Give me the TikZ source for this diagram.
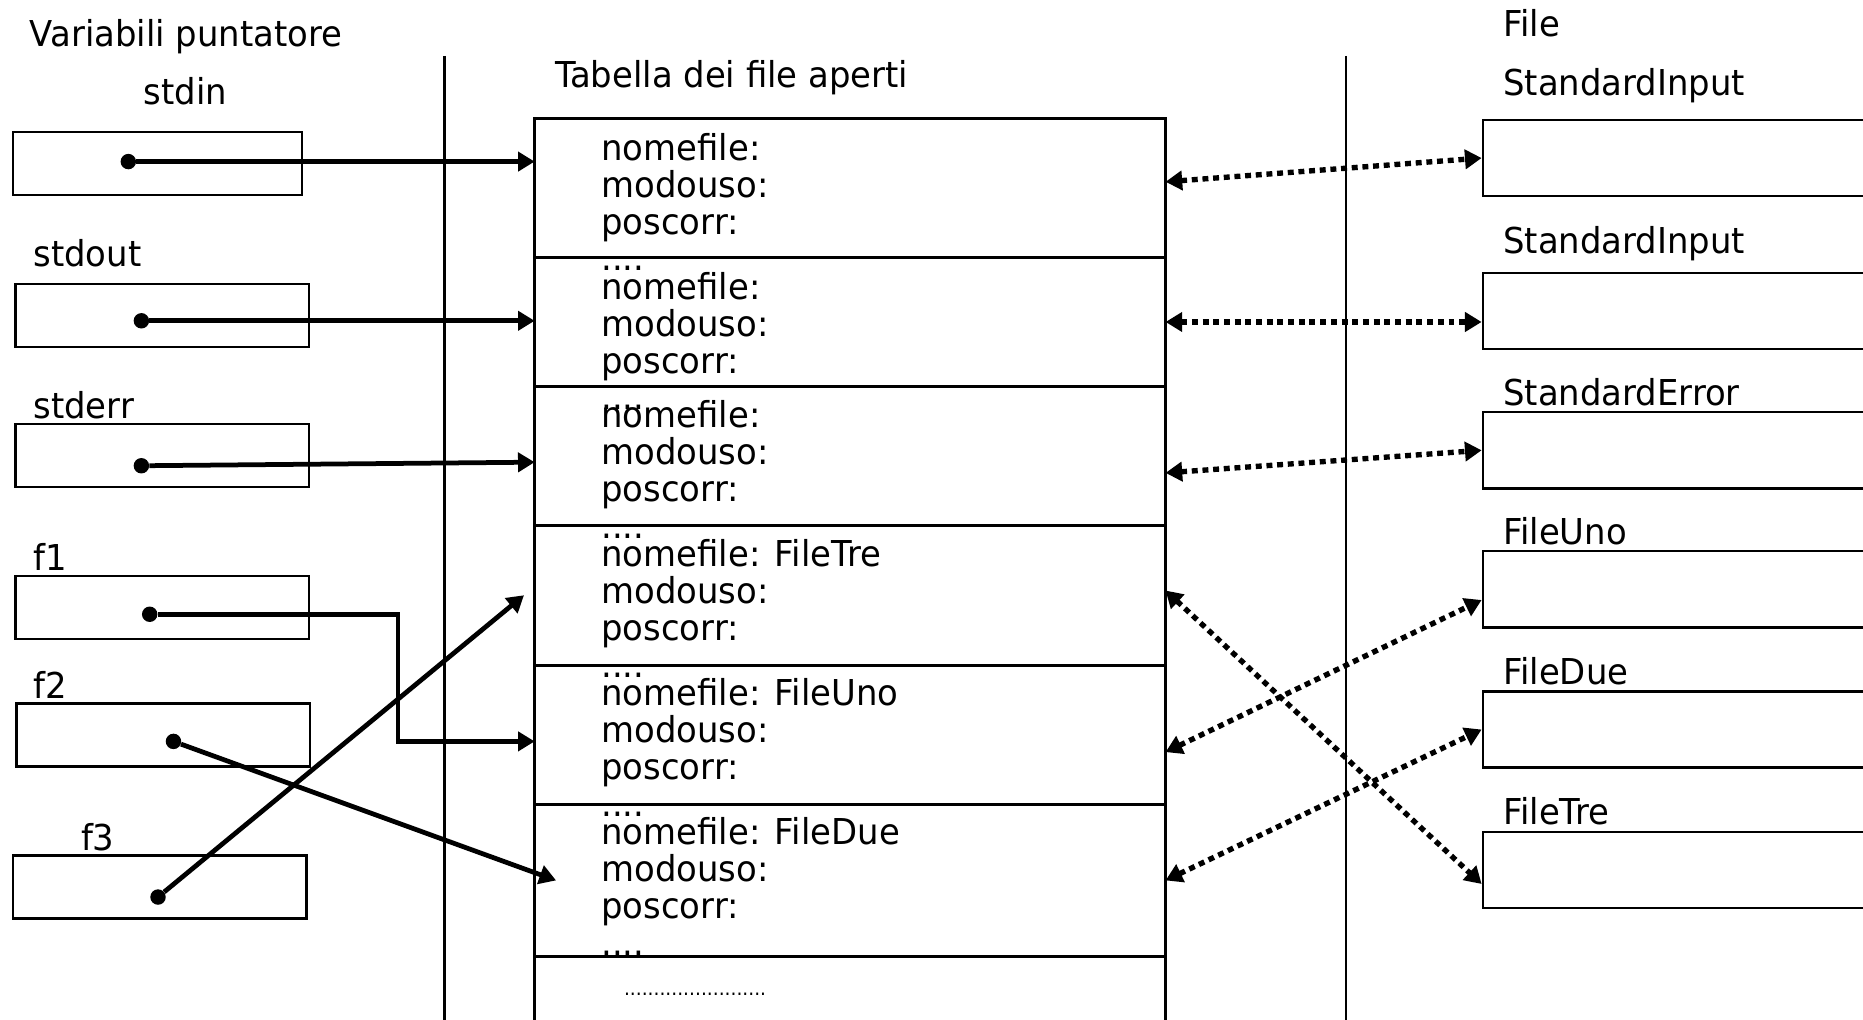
\documentclass[tikz,border=0pt]{standalone}
\usepackage{fontspec}
\setmainfont{DejaVu Sans}[FakeStretch=0.95]
\usetikzlibrary{arrows.meta,positioning}
\tikzset{
    lbl/.style={anchor=base west, inner sep=0, font=\fontsize{30}{31}\selectfont},
    varbox/.style={draw, line width=2pt, minimum width=247pt, minimum height=53pt, inner sep=0},
    filebox/.style={draw, line width=2pt, minimum width=345pt, minimum height=64pt, inner sep=0, anchor=north west},
    tabrow/.style={draw, line width=2.5pt, minimum width=531pt, inner sep=0, outer sep=0},
    fld/.style={anchor=north west, align=left, inner sep=0, font=\fontsize{30}{31}\selectfont},
    ptrdot/.style={circle, fill, minimum size=13pt, inner sep=0},
    ptr/.style={-{Triangle[length=14pt, width=16pt]}, line width=4pt},
    link/.style={{Triangle[length=14pt, width=16pt]}-{Triangle[length=14pt, width=16pt]}, line width=4.5pt, dash pattern=on 5pt off 4pt},
    sepline/.style={line width=2pt}
}
\begin{document}
\begin{tikzpicture}[x=1pt, y=-1pt]
    \clip (0,0) rectangle (1568,858);

    % column separators
    \draw[sepline] (374,47) -- (374,870);
    \draw[sepline] (1133,47) -- (1133,870);

    % headings
    \node[lbl] (hvar) at (25,39) {Variabili puntatore};
    \node[lbl] (htab) at (467,74) {Tabella dei file aperti};
    \node[lbl] (hfile) at (1265,31) {File};

    % pointer variables
    \node[lbl, anchor=base] (lin) at (156,88) {stdin};
    \node[varbox, minimum width=243pt] (vin) at (132.5,137.5) {};
    \node[lbl] (lout) at (28,224) {stdout};
    \node[varbox] (vout) at (136.5,265.5) {};
    \node[lbl] (lerr) at (28,352) {stderr};
    \node[varbox] (verr) at (136.5,383.5) {};
    \node[lbl] (lf1) at (28,480) {f1};
    \node[varbox] (vf1) at (136.5,511.5) {};
    \node[lbl] (lf2) at (28,588) {f2};
    \node[varbox] (vf2) at (137.5,618.5) {};
    \node[lbl] (lf3) at (68,716) {f3};
    \node[varbox] (vf3) at (134.5,746.5) {};

    % table of open files
    \node[tabrow, minimum height=117pt, anchor=north west] (r1) at (450,100) {};
    \node[tabrow, minimum height=108pt, below=0pt of r1] (r2) {};
    \node[tabrow, minimum height=117pt, below=0pt of r2] (r3) {};
    \node[tabrow, minimum height=118pt, below=0pt of r3] (r4) {};
    \node[tabrow, minimum height=117pt, below=0pt of r4] (r5) {};
    \node[tabrow, minimum height=128pt, below=0pt of r5] (r6) {};
    \node[tabrow, minimum height=80pt, below=0pt of r6] (r7) {};
    \node[fld] (t1) at (506,112) {nomefile:\\modouso:\\poscorr:\\....};
    \node[fld] (t2) at (506,229) {nomefile:\\modouso:\\poscorr:\\....};
    \node[fld] (t3) at (506,337) {nomefile:\\modouso:\\poscorr:\\....};
    \node[fld] (t4) at (506,454) {nomefile: FileTre\\modouso:\\poscorr:\\....};
    \node[fld] (t5) at (506,571) {nomefile: FileUno\\modouso:\\poscorr:\\....};
    \node[fld] (t6) at (506,688) {nomefile: FileDue\\modouso:\\poscorr:\\....};
    \node[lbl, font=\fontsize{16.5}{18}\selectfont] (t7) at (525,838) {........................};

    % files
    \node[lbl] (lfin) at (1265,80) {StandardInput};
    \node[filebox] (fin) at (1247,100) {};
    \node[lbl] (lfout) at (1265,213) {StandardInput};
    \node[filebox] (fout) at (1247,229) {};
    \node[lbl] (lferr) at (1265,341) {StandardError};
    \node[filebox] (ferr) at (1247,346) {};
    \node[lbl] (lfuno) at (1265,458) {FileUno};
    \node[filebox] (funo) at (1247,463) {};
    \node[lbl] (lfdue) at (1265,576) {FileDue};
    \node[filebox] (fdue) at (1247,581) {};
    \node[lbl] (lftre) at (1265,694) {FileTre};
    \node[filebox] (ftre) at (1247,699) {};

    % pointers
    \node[ptrdot] (p1) at (108,136) {};
    \node[ptrdot] (p2) at (119,270) {};
    \node[ptrdot] (p3) at (119,392) {};
    \node[ptrdot] (p4) at (126,517) {};
    \node[ptrdot] (p5) at (146,624) {};
    \node[ptrdot] (p6) at (133,755) {};
    \draw[ptr] (p1) -- (p1 -| r1.west);
    \draw[ptr] (p2) -- (p2 -| r2.west);
    \draw[ptr] (p3) -- ([yshift=-5.5pt]r3.west);
    \draw[ptr] (p4) -| ([xshift=-115pt,yshift=-5.5pt]r5.west) -- ([yshift=-5.5pt]r5.west);
    \draw[ptr] (p5) -- ([xshift=18pt]r6.west);
    \draw[ptr] (p6) -- ([xshift=-9pt]r4.west);

    % table entries <-> files
    \draw[link] ([yshift=5.5pt]r1.east) -- (fin.west);
    \draw[link] (r2.east) -- (r2.east -| fout.west);
    \draw[link] ([yshift=-14.5pt]r3.east) -- (ferr.west);
    \draw[link] ([yshift=4pt]r4.east) -- ([yshift=-12pt]ftre.west);
    \draw[link] ([yshift=-14.5pt]r5.east) -- ([yshift=-9pt]funo.west);
    \draw[link] (r6.east) -- (fdue.west);
\end{tikzpicture}
\end{document}
